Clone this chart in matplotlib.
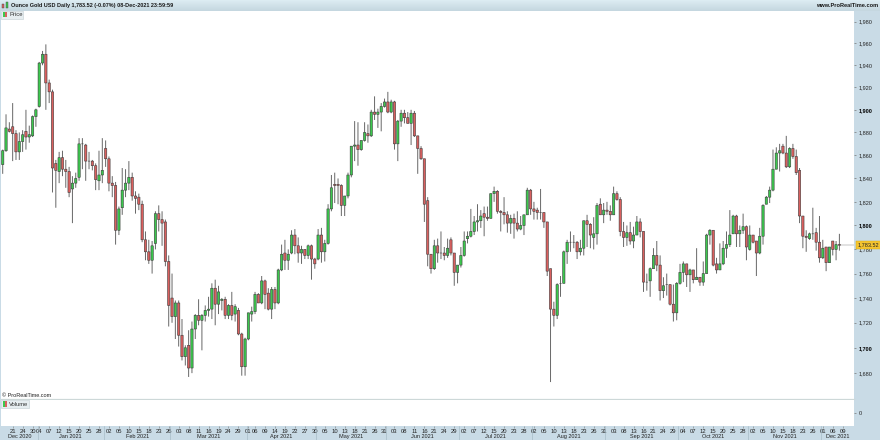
import numpy as np
import pandas as pd
import matplotlib
matplotlib.use("Agg")
import matplotlib.pyplot as plt
from matplotlib.patches import Rectangle
from matplotlib.transforms import blended_transform_factory

plt.rcParams['font.family'] = ['Liberation Sans', 'DejaVu Sans']

title_text = "Ounce Gold USD Daily 1,783.52 (-0.07%) 08-Dec-2021 23:59:59"
last_price = 1783.52

opens = [
 1852,1864,1883,1885,1879,1863,1872,1881,1876,1877,
 1894,1903,1942,1950,1924,1916,1853,1846,1858,1848,
 1846,1831,1836,1841,1870,1869,1855,1855,1851,1838,
 1843,1866,1857,1836,1834,1796,1815,1830,1836,1841,
 1825,1824,1818,1788,1778,1771,1785,1810,1805,1803,
 1770,1740,1725,1736,1710,1693,1702,1684,1715,1726,
 1722,1726,1730,1731,1748,1735,1738,1739,1726,1734,
 1727,1730,1711,1685,1707,1727,1729,1743,1736,1754,
 1744,1731,1747,1736,1763,1777,1771,1777,1792,1783,
 1777,1780,1775,1783,1772,1772,1792,1778,1785,1814,
 1835,1835,1834,1817,1825,1843,1868,1869,1865,1873,
 1879,1877,1898,1896,1898,1903,1907,1898,1907,1870,
 1890,1897,1893,1888,1897,1877,1866,1857,1821,1776,
 1764,1783,1777,1777,1775,1788,1777,1761,1767,1775,
 1789,1791,1795,1803,1804,1810,1807,1806,1827,1829,
 1812,1811,1809,1802,1806,1802,1797,1800,1809,1830,
 1814,1813,1811,1811,1803,1764,1731,1726,1752,1752,
 1778,1786,1786,1786,1778,1781,1804,1801,1790,1793,
 1818,1809,1813,1812,1809,1827,1822,1795,1790,1794,
 1787,1792,1803,1795,1753,1754,1764,1775,1767,1746,
 1751,1751,1735,1728,1752,1761,1768,1759,1763,1755,
 1757,1753,1760,1792,1796,1768,1763,1768,1781,1784,
 1793,1808,1793,1796,1799,1780,1792,1787,1777,1791,
 1818,1824,1830,1848,1862,1868,1862,1850,1866,1859,
 1847,1808,1791,1789,1793,1794,1786,1773,1782,1769,
 1787,1780,1784]
closes = [
 1864,1884,1881,1879,1863,1872,1878,1876,1878,1894,
 1900,1942,1950,1924,1916,1849,1847,1858,1848,1846,
 1828,1836,1840,1870,1870,1855,1855,1851,1839,1843,
 1847,1857,1836,1834,1796,1814,1830,1836,1841,1825,
 1823,1818,1788,1778,1771,1783,1810,1805,1802,1770,
 1734,1725,1736,1710,1693,1700,1684,1715,1726,1722,
 1726,1730,1731,1748,1735,1745,1739,1726,1734,1726,
 1733,1711,1685,1707,1728,1729,1743,1736,1754,1743,
 1731,1747,1736,1763,1776,1771,1776,1792,1783,1777,
 1780,1775,1783,1772,1768,1792,1778,1785,1814,1832,
 1834,1834,1817,1825,1843,1868,1869,1865,1873,1880,
 1877,1898,1896,1898,1903,1907,1898,1907,1870,1890,
 1897,1893,1888,1897,1877,1866,1857,1818,1776,1764,
 1783,1777,1777,1775,1781,1777,1761,1767,1775,1787,
 1791,1795,1803,1804,1808,1807,1806,1827,1829,1812,
 1811,1809,1802,1806,1802,1797,1800,1809,1830,1814,
 1812,1811,1811,1803,1762,1731,1726,1751,1752,1778,
 1786,1786,1786,1778,1781,1804,1801,1792,1793,1817,
 1809,1813,1812,1809,1827,1822,1795,1790,1794,1787,
 1792,1803,1795,1753,1753,1764,1775,1767,1746,1750,
 1751,1735,1728,1752,1761,1768,1759,1763,1755,1757,
 1753,1760,1792,1796,1767,1763,1768,1781,1784,1792,
 1808,1793,1796,1799,1782,1792,1786,1777,1791,1817,
 1824,1830,1848,1862,1864,1862,1850,1866,1859,1845,
 1808,1791,1790,1793,1793,1786,1773,1781,1769,1782,
 1780,1784,1783.52]
highs = [
 1865,1896,1889,1906,1882,1880,1882,1900,1886,1895,
 1901,1943,1953,1959,1927,1918,1856,1863,1864,1856,
 1850,1842,1845,1875,1875,1870,1863,1856,1853,1864,
 1875,1873,1859,1842,1837,1816,1849,1848,1855,1845,
 1829,1827,1821,1795,1788,1787,1812,1817,1812,1805,
 1775,1760,1738,1738,1723,1702,1714,1721,1727,1739,
 1727,1734,1741,1752,1755,1750,1740,1741,1735,1745,
 1735,1732,1712,1708,1728,1733,1745,1744,1758,1755,
 1748,1749,1749,1764,1784,1788,1780,1796,1797,1790,
 1783,1780,1784,1784,1773,1797,1798,1788,1818,1843,
 1845,1840,1835,1825,1845,1868,1890,1889,1873,1889,
 1887,1900,1912,1901,1906,1910,1916,1909,1908,1891,
 1900,1900,1898,1900,1899,1877,1868,1857,1824,1776,
 1788,1789,1795,1782,1789,1790,1777,1767,1782,1795,
 1795,1814,1808,1818,1813,1816,1816,1827,1833,1830,
 1813,1824,1812,1809,1810,1812,1808,1809,1832,1831,
 1820,1815,1831,1811,1803,1764,1737,1752,1758,1779,
 1788,1795,1792,1787,1788,1804,1809,1802,1807,1819,
 1823,1819,1820,1817,1833,1829,1824,1803,1800,1803,
 1799,1808,1806,1795,1760,1765,1781,1787,1775,1757,
 1760,1751,1751,1753,1768,1770,1768,1764,1763,1781,
 1757,1770,1793,1797,1796,1773,1785,1787,1795,1813,
 1809,1809,1800,1810,1800,1800,1792,1787,1798,1818,
 1825,1833,1865,1867,1870,1870,1877,1867,1870,1865,
 1849,1808,1796,1794,1815,1798,1808,1788,1782,1782,
 1787,1787,1793]
lows = [
 1844,1863,1880,1855,1856,1856,1863,1865,1871,1876,
 1885,1902,1940,1900,1906,1828,1815,1836,1842,1832,
 1824,1802,1832,1838,1848,1838,1848,1847,1830,1830,
 1836,1850,1829,1824,1784,1792,1809,1824,1830,1821,
 1810,1813,1786,1771,1768,1760,1780,1795,1783,1766,
 1717,1720,1707,1701,1690,1686,1677,1680,1707,1718,
 1698,1721,1725,1723,1718,1727,1730,1723,1723,1722,
 1721,1710,1678,1678,1706,1721,1727,1736,1735,1731,
 1730,1723,1731,1735,1762,1763,1763,1776,1776,1769,
 1768,1772,1772,1755,1764,1771,1769,1770,1784,1812,
 1819,1818,1808,1808,1823,1841,1855,1851,1864,1872,
 1871,1876,1891,1884,1881,1902,1897,1897,1865,1855,
 1885,1888,1888,1869,1876,1844,1856,1803,1766,1760,
 1763,1769,1772,1771,1773,1775,1750,1752,1765,1774,
 1785,1790,1792,1795,1798,1791,1804,1806,1820,1810,
 1795,1801,1794,1793,1789,1795,1796,1792,1809,1809,
 1805,1805,1805,1798,1758,1673,1717,1723,1741,1752,
 1768,1778,1781,1772,1775,1775,1782,1781,1780,1784,
 1809,1802,1809,1804,1809,1821,1791,1782,1783,1784,
 1781,1792,1790,1745,1746,1741,1764,1762,1738,1740,
 1742,1734,1721,1722,1751,1753,1749,1745,1752,1755,
 1750,1750,1760,1784,1766,1760,1763,1767,1773,1782,
 1793,1782,1782,1793,1771,1779,1785,1758,1776,1784,
 1818,1819,1829,1848,1846,1861,1849,1849,1857,1843,
 1802,1781,1778,1788,1788,1779,1769,1772,1762,1769,
 1775,1771,1779]

price_ticks = list(range(1680, 2000, 20))
first_session = "2020-12-16"
last_axis_session = "2021-12-09"
closed_days = ["2020-12-25", "2021-01-01", "2021-04-02"]
tick_dates = [
 "2020-12-21","2020-12-24","2020-12-30",
 "2021-01-04","2021-01-07","2021-01-12","2021-01-15","2021-01-20","2021-01-25","2021-01-28",
 "2021-02-02","2021-02-05","2021-02-10","2021-02-15","2021-02-18","2021-02-23","2021-02-26",
 "2021-03-03","2021-03-08","2021-03-11","2021-03-16","2021-03-19","2021-03-24","2021-03-29",
 "2021-04-01","2021-04-06","2021-04-09","2021-04-14","2021-04-19","2021-04-22","2021-04-27","2021-04-30",
 "2021-05-05","2021-05-10","2021-05-13","2021-05-18","2021-05-21","2021-05-26","2021-05-31",
 "2021-06-03","2021-06-08","2021-06-11","2021-06-16","2021-06-21","2021-06-24","2021-06-29",
 "2021-07-02","2021-07-07","2021-07-12","2021-07-15","2021-07-20","2021-07-23","2021-07-28",
 "2021-08-02","2021-08-05","2021-08-10","2021-08-13","2021-08-18","2021-08-23","2021-08-26","2021-08-31",
 "2021-09-03","2021-09-08","2021-09-13","2021-09-16","2021-09-21","2021-09-24","2021-09-29",
 "2021-10-04","2021-10-07","2021-10-12","2021-10-15","2021-10-20","2021-10-25","2021-10-28",
 "2021-11-02","2021-11-05","2021-11-10","2021-11-15","2021-11-18","2021-11-23","2021-11-26",
 "2021-12-01","2021-12-06","2021-12-09"]

W, H = 880, 440
PANEL = '#c9dbe6'
INK = '#222222'
RED = '#d9605f'
GREEN = '#3cc84e'
LINE = '#cdd8d8'

dates = pd.bdate_range(first_session, last_axis_session).drop(pd.to_datetime(closed_days))
x = np.arange(len(opens))
o, h, l, c = map(np.array, (opens, highs, lows, closes))


def fx(px):
    return px / W


def fy(px):
    return 1 - px / H


fig = plt.figure(figsize=(W / 100, H / 100), dpi=100, facecolor=PANEL)

# top bar gradient
bar = fig.add_axes([0, fy(11), 1, 11 / H])
bar.imshow(np.linspace(0, 1, 11)[:, None], aspect='auto', cmap=matplotlib.colors.LinearSegmentedColormap.from_list('b', ['#dcecf2', '#c5d7e0']))
bar.axis('off')

x0, x1 = -0.512, 256.4
ax = fig.add_axes([fx(1), fy(399), fx(853), 388 / H], facecolor='white')
vol = fig.add_axes([fx(1), fy(426), fx(853), 26 / H], facecolor='white')

ax.set_yscale('log')
ax.set_xlim(x0, x1)
ax.set_ylim(1659.8, 1989.8)
ax.minorticks_off()

up = c >= o
wicks = ax.vlines(x, l, h, color='#666666', lw=0.7, zorder=2)
wicks.set_snap(False)
bodies = ax.bar(x, np.abs(c - o), bottom=np.minimum(o, c), width=0.7,
                color=np.where(up, GREEN, RED), edgecolor='#3a3a3a', linewidth=0.4, zorder=3)
for b in bodies:
    b.set_snap(False)

ax.yaxis.tick_right()
ax.set_yticks(price_ticks)
ax.set_yticklabels([f"{p:,}" for p in price_ticks], fontsize=4.0, color=INK)
for lab, p in zip(ax.get_yticklabels(), price_ticks):
    if p % 100 == 0:
        lab.set_fontweight('bold')
        lab.set_color('black')
ax.tick_params(axis='y', which='major', length=1.5, width=0.5, color='#777777', pad=1.6, right=True)
ax.tick_params(axis='y', which='minor', length=0)
ax.set_xticks([])
for s in ax.spines.values():
    s.set_visible(False)
ax.spines['bottom'].set_visible(True)
ax.spines['bottom'].set_color(LINE)
ax.spines['bottom'].set_linewidth(0.9)

# last price flag
ax.annotate(f"{last_price:,.2f}", xy=(1.0, last_price), xycoords=('axes fraction', 'data'),
            xytext=(2.4, 0), textcoords='offset points', fontsize=4.0, color=INK, va='center', ha='left',
            zorder=6, annotation_clip=False,
            bbox=dict(boxstyle='square,pad=0.3', fc='#f4c430', ec='#d9a800', lw=0.3))
ax.hlines(last_price, x[-1] - 0.4, x1, color='#777777', lw=0.3, zorder=1)

ax.text(0.0015, 0.003, "\u00a9 ProRealTime.com", transform=ax.transAxes, fontsize=4.0, color=INK,
        va='bottom', ha='left')

# volume panel
vol.set_xlim(x0, x1)
vol.set_ylim(-1, 1)
vol.yaxis.tick_right()
vol.set_yticks([0])
vol.set_yticklabels(['0'], fontsize=4.0, color=INK)
vol.tick_params(axis='y', length=1.5, width=0.5, color='#777777', pad=1.6)
for s in vol.spines.values():
    s.set_visible(False)

pos = [dates.get_loc(pd.Timestamp(d)) for d in tick_dates]
vol.set_xticks(pos)
vol.set_xticklabels([pd.Timestamp(d).strftime('%d') for d in tick_dates], fontsize=4.2, color=INK)
vol.tick_params(axis='x', length=1.5, width=0.4, color='#777777', pad=1.0)

# month labels and separators along the bottom strip
tr = blended_transform_factory(vol.transData, fig.transFigure)
months = dates.to_period('M')
for m in months.unique():
    idx = np.where(months == m)[0]
    left = max(idx[0] - 0.5, x0)
    right = x1 if m == months[-1] else idx[-1] + 0.5
    vol.text((left + right) / 2, fy(436.4), m.strftime('%b %Y'), transform=tr, fontsize=4.0, color=INK,
             ha='center', va='center', clip_on=False)
    if idx[0] > 0:
        vol.plot([left, left], [fy(426), fy(440)], transform=tr, color='#9fb4c0', lw=0.4, clip_on=False)


def legend_box(px, py, w, label, txt_px):
    fig.add_artist(Rectangle((fx(px), fy(py + 8)), w / W, 8 / H, transform=fig.transFigure,
                             fc='#e6edf0', ec='#c3ced3', lw=0.4))
    fig.add_artist(Rectangle((fx(px + 2), fy(py + 6.5)), 2.3 / W, 5.5 / H, transform=fig.transFigure, fc=GREEN, ec='none'))
    fig.add_artist(Rectangle((fx(px + 4.3), fy(py + 6.5)), 2.3 / W, 5.5 / H, transform=fig.transFigure, fc=RED, ec='none'))
    fig.text(fx(txt_px), fy(py + 4), label, fontsize=4.2, color='#333333', va='center', ha='left')


legend_box(0.5, 11, 22, "Price", 9)
legend_box(0.5, 400, 28, "Volume", 9)

# header
fig.text(fx(11.3), fy(5.7), title_text, fontsize=3.95, fontweight='bold', color='#1a1a1a', va='center', ha='left')
fig.text(fx(878.5), fy(5.7), "www.ProRealTime.com", fontsize=4.05, fontweight='bold', color='#1a1a1a', va='center', ha='right')
fig.add_artist(Rectangle((fx(1.5), fy(8.5)), 2.6 / W, 4.5 / H, transform=fig.transFigure, fc=RED, ec='#444444', lw=0.3))
fig.add_artist(Rectangle((fx(5.5), fy(8.5)), 2.6 / W, 6.5 / H, transform=fig.transFigure, fc=GREEN, ec='#444444', lw=0.3))

fig.savefig('out.png', dpi=100, facecolor=fig.get_facecolor())
